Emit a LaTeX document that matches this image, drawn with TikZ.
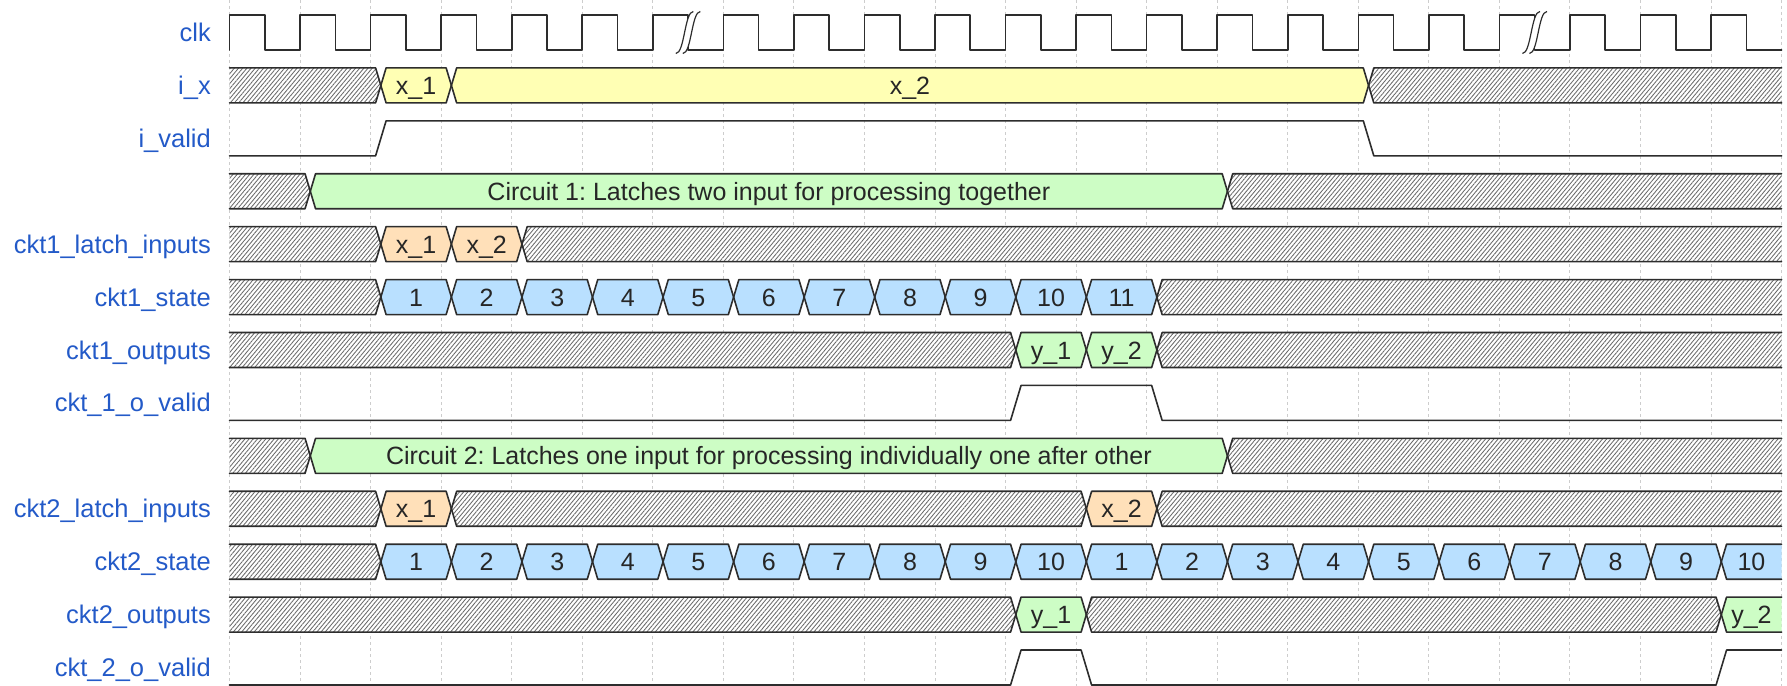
\documentclass[tikz,border=0pt]{standalone}
\usepackage{fontspec}
\setmainfont{Liberation Sans}
\usetikzlibrary{patterns.meta}
\frenchspacing

\definecolor{lblue}{RGB}{35,90,200}
\definecolor{ink}{RGB}{45,45,45}
\definecolor{fillY}{HTML}{FFFFB4}
\definecolor{fillO}{HTML}{FFE0B9}
\definecolor{fillB}{HTML}{B9E0FF}
\definecolor{fillG}{HTML}{CDFDC5}
\definecolor{gridc}{RGB}{205,205,205}

\pgfdeclarelayer{gridlayer}
\pgfdeclarelayer{filllayer}
\pgfsetlayers{gridlayer,filllayer,main}

% timing geometry, in bp
\def\xo{229.5}     % x of time 0
\def\per{70.55}    % one clock period
\def\yo{15}        % top of the first lane
\def\pitch{52.92}  % lane to lane distance
\def\sh{35}        % lane height
\def\trA{5}\def\trC{10.25}\def\trB{15.5} % transition start, middle, end after an edge

\def\tX#1#2{\xo+\per*(#1)+#2}
\def\rY#1#2{\yo+\pitch*(#1)+#2}

\tikzset{
  wire/.style={draw=ink, line width=1.6bp, line join=round, line cap=round},
  hatch/.style={preaction={fill=white}, pattern={Lines[angle=50,distance=3.2bp,line width=0.85bp]}, pattern color=black!58},
  yel/.style={fill=fillY},
  org/.style={fill=fillO},
  blu/.style={fill=fillB},
  grn/.style={fill=fillG},
  lbl/.style={text=lblue, anchor=base east, inner sep=0pt, font=\fontsize{25.5bp}{30bp}\selectfont},
  val/.style={text=black!85, anchor=base, inner sep=0pt, font=\fontsize{25bp}{30bp}\selectfont},
  gridline/.style={draw=gridc, line width=1bp, dash pattern=on 3bp off 3bp},
}

% one bus value: lane, first tick, last tick, fill style, text
\newcommand\busseg[5]{%
  \pgfmathsetmacro\yt{\rY{#1}{0}}%
  \pgfmathsetmacro\yb{\rY{#1}{\sh}}%
  \pgfmathsetmacro\ym{\rY{#1}{\sh/2}}%
  \pgfmathsetmacro\xl{\tX{#2}{0}}%
  \pgfmathsetmacro\xr{\tX{#3}{0}}%
  \pgfmathsetmacro\xlc{\xl+\trC}\pgfmathsetmacro\xlb{\xl+\trB}%
  \pgfmathsetmacro\xra{\xr+\trA}\pgfmathsetmacro\xrc{\xr+\trC}%
  \ifnum#2=0\relax
    \def\pTL{(\xl,\yt)}\def\pBL{(\xl,\yb)}\def\fBL{(\xl,\yb)}\let\xbeg\xl
  \else
    \def\pTL{(\xlc,\ym) -- (\xlb,\yt)}\def\pBL{(\xlc,\ym) -- (\xlb,\yb)}\def\fBL{(\xlb,\yb)}\let\xbeg\xlc
  \fi
  \ifnum#3=22\relax
    \def\pTR{(\xr,\yt)}\def\pBR{(\xr,\yb)}\def\fBR{(\xr,\yb)}\let\xfin\xr
  \else
    \def\pTR{(\xra,\yt) -- (\xrc,\ym)}\def\pBR{(\xra,\yb) -- (\xrc,\ym)}\def\fBR{(\xra,\yb)}\let\xfin\xrc
  \fi
  \begin{pgfonlayer}{filllayer}
    \path[#4] \pTL -- \pTR -- \fBR -- \fBL -- cycle;
  \end{pgfonlayer}
  \draw[wire] \pTL -- \pTR;
  \draw[wire] \pBL -- \pBR;
  \if\relax\detokenize{#5}\relax\else
    \pgfmathsetmacro\xmid{(\xbeg+\xfin)/2}%
    \node[val] (v#1-#2) at (\xmid,\ym+9) {#5};
  \fi
}

% break mark drawn over the clock
\newcommand\clkgap[1]{%
  \pgfmathsetmacro\gx{\tX{#1}{0}}%
  \begin{scope}[shift={(\gx,\yo)}, scale=1.75]
    \fill[white] (7,-2) -- (3,-2) .. controls (-2,-2) and (-2,22) .. (-7,22)
      -- (-3,22) .. controls (2,22) and (2,-2) .. (7,-2) -- cycle;
    \draw[ink, line width=1.2bp] (-7,22) .. controls (-2,22) and (-2,-2) .. (3,-2);
    \draw[ink, line width=1.2bp] (-3,22) .. controls (2,22) and (2,-2) .. (7,-2);
  \end{scope}%
}

\begin{document}
\begin{tikzpicture}[x=1bp, y=-1bp]
\useasboundingbox (0,0) rectangle (1787,686);

% tick grid
\begin{pgfonlayer}{gridlayer}
  \foreach \t in {0,...,22} {
    \pgfmathsetmacro\gx{\tX{\t}{0}}
    \draw[gridline] (\gx,0) -- (\gx,686);
  }
\end{pgfonlayer}

% lane names
\foreach \r/\nm/\txt in {0/clk/clk, 1/ix/i\_x, 2/ivalid/i\_valid,
    4/latchA/ckt1\_latch\_inputs, 5/stateA/ckt1\_state, 6/outA/ckt1\_outputs,
    7/validA/ckt\_1\_o\_valid, 9/latchB/ckt2\_latch\_inputs, 10/stateB/ckt2\_state,
    11/outB/ckt2\_outputs, 12/validB/ckt\_2\_o\_valid} {
  \node[lbl] (l\nm) at (211,{\rY{\r}{\sh/2+9}}) {\txt};
}

% clk
\pgfmathsetmacro\cH{\rY{0}{0}}
\pgfmathsetmacro\cL{\rY{0}{\sh}}
\draw[wire] (\xo,\cL) \foreach \t in {0,...,21} {
  -- ({\tX{\t}{0}},\cH) -- ({\tX{\t+0.5}{0}},\cH)
  -- ({\tX{\t+0.5}{0}},\cL) -- ({\tX{\t+1}{0}},\cL) };
\clkgap{6.5}
\clkgap{18.5}

% i_x
\busseg{1}{0}{2}{hatch}{}
\busseg{1}{2}{3}{yel}{x\_1}
\busseg{1}{3}{16}{yel}{x\_2}
\busseg{1}{16}{22}{hatch}{}

% i_valid
\pgfmathsetmacro\vH{\rY{2}{0}}
\pgfmathsetmacro\vL{\rY{2}{\sh}}
\draw[wire] (\xo,\vL) -- ({\tX{2}{\trA}},\vL) -- ({\tX{2}{\trB}},\vH)
  -- ({\tX{16}{\trA}},\vH) -- ({\tX{16}{\trB}},\vL) -- ({\tX{22}{0}},\vL);

% circuit 1
\busseg{3}{0}{1}{hatch}{}
\busseg{3}{1}{14}{grn}{Circuit 1: Latches two input for processing together}
\busseg{3}{14}{22}{hatch}{}

\busseg{4}{0}{2}{hatch}{}
\busseg{4}{2}{3}{org}{x\_1}
\busseg{4}{3}{4}{org}{x\_2}
\busseg{4}{4}{22}{hatch}{}

\busseg{5}{0}{2}{hatch}{}
\foreach \i in {1,...,11} {
  \pgfmathtruncatemacro\ts{\i+1}\pgfmathtruncatemacro\te{\i+2}
  \busseg{5}{\ts}{\te}{blu}{\i}
}
\busseg{5}{13}{22}{hatch}{}

\busseg{6}{0}{11}{hatch}{}
\busseg{6}{11}{12}{grn}{y\_1}
\busseg{6}{12}{13}{grn}{y\_2}
\busseg{6}{13}{22}{hatch}{}

\pgfmathsetmacro\vH{\rY{7}{0}}
\pgfmathsetmacro\vL{\rY{7}{\sh}}
\draw[wire] (\xo,\vL) -- ({\tX{11}{\trA}},\vL) -- ({\tX{11}{\trB}},\vH)
  -- ({\tX{13}{\trA}},\vH) -- ({\tX{13}{\trB}},\vL) -- ({\tX{22}{0}},\vL);

% circuit 2
\busseg{8}{0}{1}{hatch}{}
\busseg{8}{1}{14}{grn}{Circuit 2: Latches one input for processing individually one after other}
\busseg{8}{14}{22}{hatch}{}

\busseg{9}{0}{2}{hatch}{}
\busseg{9}{2}{3}{org}{x\_1}
\busseg{9}{3}{12}{hatch}{}
\busseg{9}{12}{13}{org}{x\_2}
\busseg{9}{13}{22}{hatch}{}

\busseg{10}{0}{2}{hatch}{}
\foreach \i in {1,...,10} {
  \pgfmathtruncatemacro\ts{\i+1}\pgfmathtruncatemacro\te{\i+2}
  \busseg{10}{\ts}{\te}{blu}{\i}
}
\foreach \i in {1,...,9} {
  \pgfmathtruncatemacro\ts{\i+11}\pgfmathtruncatemacro\te{\i+12}
  \busseg{10}{\ts}{\te}{blu}{\i}
}
\busseg{10}{21}{22}{blu}{10}

\busseg{11}{0}{11}{hatch}{}
\busseg{11}{11}{12}{grn}{y\_1}
\busseg{11}{12}{21}{hatch}{}
\busseg{11}{21}{22}{grn}{y\_2}

\pgfmathsetmacro\vH{\rY{12}{0}}
\pgfmathsetmacro\vL{\rY{12}{\sh}}
\draw[wire] (\xo,\vL) -- ({\tX{11}{\trA}},\vL) -- ({\tX{11}{\trB}},\vH)
  -- ({\tX{12}{\trA}},\vH) -- ({\tX{12}{\trB}},\vL) -- ({\tX{21}{\trA}},\vL)
  -- ({\tX{21}{\trB}},\vH) -- ({\tX{22}{0}},\vH);

\end{tikzpicture}
\end{document}
